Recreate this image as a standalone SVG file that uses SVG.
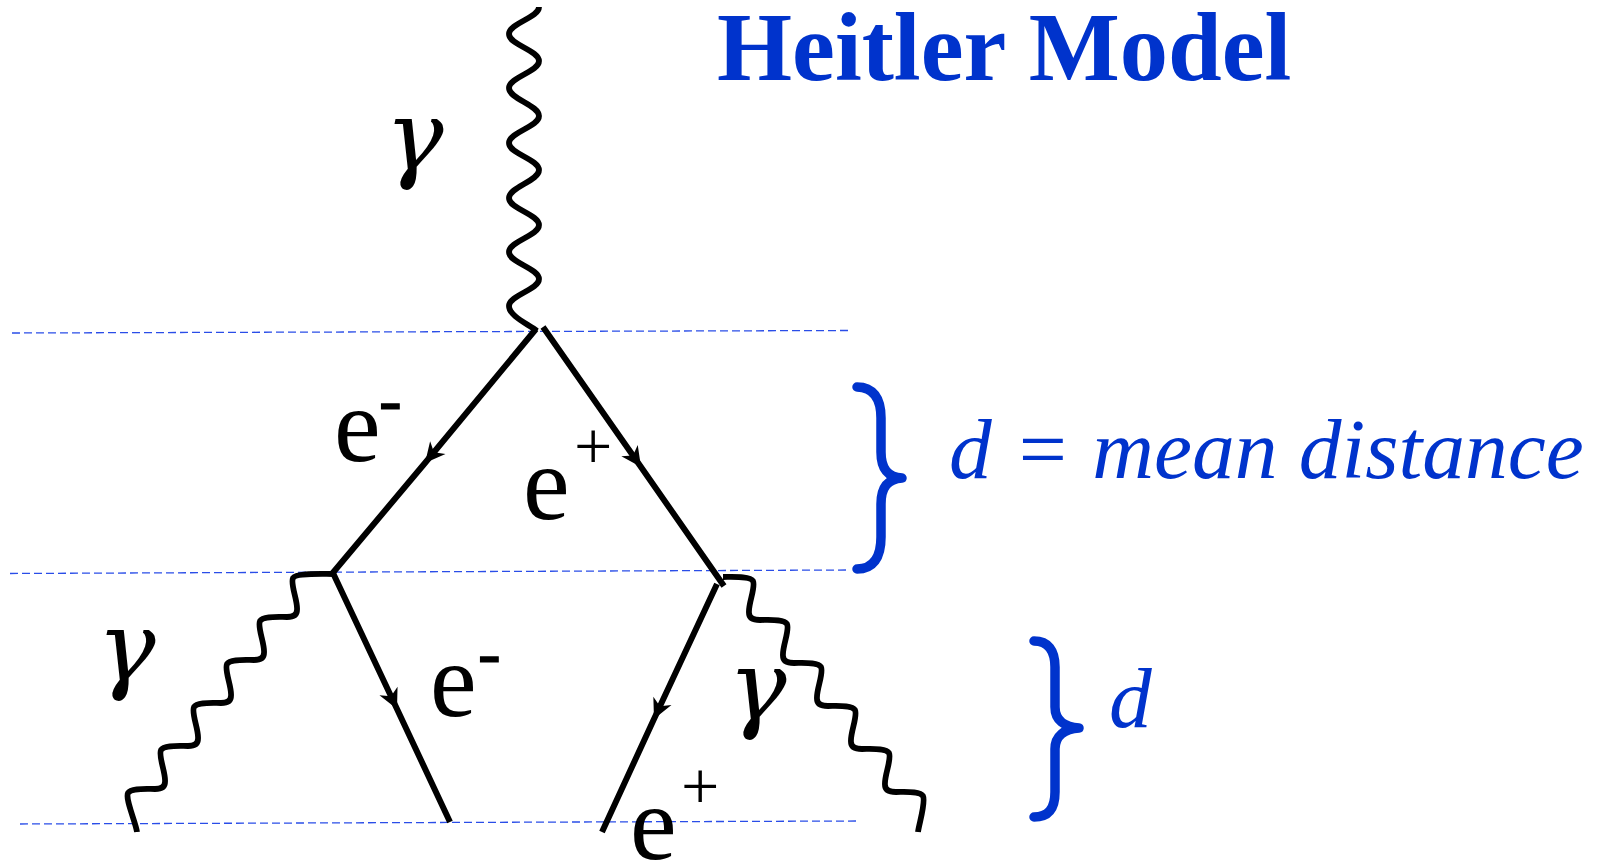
<svg xmlns="http://www.w3.org/2000/svg" width="1602" height="862" viewBox="0 0 1602 862">
<style>
.dash{stroke:#2a4de8;stroke-width:1.3;stroke-dasharray:8 4;fill:none}
.ferm{stroke:#000;stroke-width:6;fill:none;stroke-linecap:butt;marker-mid:url(#arr)}
.wave{stroke:#000;stroke-width:5.8;fill:none;stroke-linecap:butt;stroke-linejoin:round}
.brace{stroke:#0033cc;stroke-width:9.5;fill:none;stroke-linecap:round;stroke-linejoin:round}
.lbl{font-family:"Liberation Serif","Times New Roman",serif;fill:#000}
.gam{font-family:"DejaVu Serif",serif;font-style:italic;font-size:98px;fill:#000}
.e{font-size:105px}
.sup{font-size:68px}
.blue{font-family:"Liberation Serif","Times New Roman",serif;font-style:italic;font-size:85.5px;fill:#0033cc}
</style>
<defs>
<marker id="arr" markerUnits="userSpaceOnUse" markerWidth="40" markerHeight="40" refX="0" refY="0" viewBox="-20 -20 40 40" orient="auto" overflow="visible">
<path d="M0,0 L-20,-10 L-14,0 L-20,10 Z" fill="#000"/>
</marker>
</defs>
<rect width="1602" height="862" fill="#fff"/>

<g id="guides">
<line class="dash" x1="12" y1="333" x2="848" y2="330.5"/>
<line class="dash" x1="10" y1="573.5" x2="848" y2="570"/>
<line class="dash" x1="20" y1="824" x2="857" y2="821"/>
</g>

<g id="connectors">
<path id="photon-in" class="wave" d="M539,7 C539,18 509,23 509,34 C509,45 539,50 539,61 C539,72 509,77 509,88 C509,99 539,105 539,116 C539,127 509,132 509,143 C509,154 539,159 539,170 C539,181 509,187 509,198 C509,209 539,214 539,225 C539,236 509,241 509,252 C509,263 539,268 539,279 C539,290 509,295 509,306 C509,316 528,324 537,331"/>
<path id="electron-1" class="ferm" d="M536,329 L425,463 L331,575"/>
<path id="positron-1" class="ferm" d="M543,327 L641,467 L724,586"/>
<path id="electron-2" class="ferm" d="M333,573 L397,709 L450,822"/>
<path id="positron-2" class="ferm" d="M717,584 L654,719 L602,832"/>
<path id="photon-left" class="wave" d="M333,574 c -14,0 -37,-1 -40,4 c -3,6 5,23 4,32 c 0,5 -4,7 -10,7 c -10,0 -24,-1 -27,4 c -3,6 5,23 4,32 c 0,5 -4,7 -10,7 c -10,0 -24,-1 -27,4 c -3,6 5,23 4,32 c 0,5 -4,7 -10,7 c -10,0 -24,-1 -27,4 c -3,6 5,23 4,32 c 0,5 -4,7 -10,7 c -10,0 -24,-1 -27,4 c -3,6 5,23 4,32 c 0,5 -4,7 -10,7 c -10,0 -24,-1 -27,4 c -3,6 8,30 9,39"/>
<path id="photon-right" class="wave" d="M723,577 c 10,0 27,-1 30,4 c 3,6 -5,23 -4,32 c 0,5 4,7 11,7 c 10,0 24,-1 27,4 c 3,6 -5,23 -4,32 c 0,5 4,7 11,7 c 10,0 24,-1 27,4 c 3,6 -5,23 -4,32 c 0,5 4,7 11,7 c 10,0 24,-1 27,4 c 3,6 -5,23 -4,32 c 0,5 4,7 11,7 c 10,0 24,-1 27,4 c 3,6 -5,23 -4,32 c 0,5 4,7 11,7 c 10,0 24,-1 27,4 c 3,6 -4,28 -5,36"/>
</g>

<g id="title">
<text x="717" y="80" font-family="Liberation Serif, Times New Roman, serif" font-weight="bold" font-size="96.5" fill="#0033cc">Heitler Model</text>
</g>

<g id="label-gamma-top"><text class="gam" x="385" y="170">γ</text></g>
<g id="label-eminus-1"><text class="lbl e" x="334" y="461">e</text><text class="lbl sup" x="379" y="422" stroke="#000" stroke-width="1.2">-</text></g>
<g id="label-eplus-1"><text class="lbl e" x="523" y="519">e</text><text class="lbl sup" x="574" y="469">+</text></g>
<g id="label-gamma-left"><text class="gam" x="97" y="681">γ</text></g>
<g id="label-eminus-2"><text class="lbl e" x="430" y="716">e</text><text class="lbl sup" x="478" y="675" stroke="#000" stroke-width="1.2">-</text></g>
<g id="label-gamma-right"><text class="gam" x="728" y="720">γ</text></g>
<g id="label-eplus-2"><text class="lbl e" x="630" y="859">e</text><text class="lbl sup" x="681" y="809">+</text></g>

<g id="brace-1">
<path class="brace" d="M857,387 C873,387 881,398 881,418 L881,452 C881,469 888,477 902,478 C888,479 881,487 881,504 L881,537 C881,558 873,569 857,569"/>
</g>
<g id="label-d-mean"><text class="blue" x="949" y="478">d = mean distance</text></g>

<g id="brace-2">
<path class="brace" d="M1034,641 C1048,641 1055,650 1055,667 L1055,707 C1055,720 1064,727 1079,728 C1064,729 1055,736 1055,749 L1055,792 C1055,809 1048,817 1034,817"/>
</g>
<g id="label-d"><text class="blue" x="1109" y="727">d</text></g>
</svg>
